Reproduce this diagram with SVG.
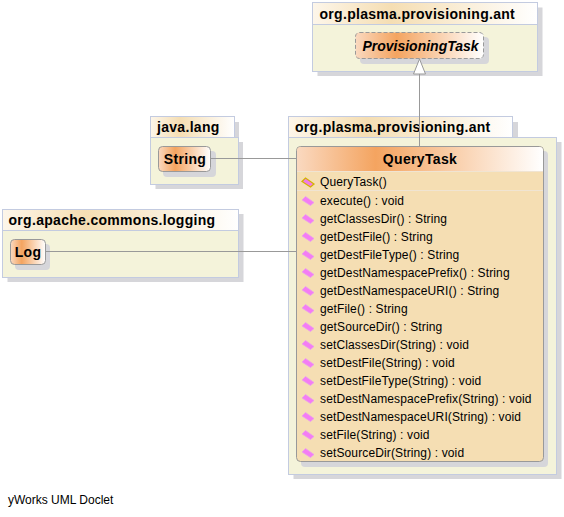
<svg xmlns="http://www.w3.org/2000/svg" width="564" height="517" viewBox="0 0 564 517">
<style>
text{font-family:"Liberation Sans",Arial,sans-serif;fill:#000}
.shadow{fill:#d6d6da}
.body{fill:#f4f3da;stroke:#c3cbe0;stroke-width:1}
.tab{fill:url(#tabGrad);stroke:#c3cbe0;stroke-width:1}
.cls{stroke:#999;stroke-width:1}
.pkg{font-size:14px;font-weight:bold;letter-spacing:.3px}
.name{font-size:14px;font-weight:bold;text-anchor:middle;letter-spacing:.35px}
.m{font-size:12px;letter-spacing:.13px}
.conn{fill:none;stroke:#999;stroke-width:1}
.sep{stroke:#f0e4d2;stroke-width:1}
.ico{fill:#f47cf4;stroke:#e8a0ee;stroke-width:.8}
.ctor{fill:#f07ce8;stroke:#d4b400;stroke-width:1.3}
</style>
<defs>
<linearGradient id="tabGrad"><stop offset="0" stop-color="#fdf6ea"/><stop offset=".35" stop-color="#f5deb3"/><stop offset="1" stop-color="#fff"/></linearGradient>
<linearGradient id="clsGrad"><stop offset="0" stop-color="#fad9c0"/><stop offset=".32" stop-color="#f4a460"/><stop offset="1" stop-color="#fff"/></linearGradient>
<path id="im" d="M-6-1-2.500-4.500 6 1.500 2.500 4.500Z"/>
</defs>
<g id="pkg-top">
<path class="shadow" d="M317.500 7.500H542.500V76H317.500Z"/>
<rect class="body" x="312.500" y="24.500" width="225" height="47"/>
<rect class="tab" x="312.500" y="2.500" width="225" height="22"/>
<text class="pkg" x="319.500" y="19">org.plasma.provisioning.ant</text>
</g>
<g id="pkg-main">
<path class="shadow" d="M293.500 122H518V142H561.500V479H293.500Z"/>
<rect class="body" x="288.500" y="137.500" width="268" height="337"/>
<rect class="tab" x="288.500" y="116.500" width="224" height="21"/>
<text class="pkg" x="295" y="132">org.plasma.provisioning.ant</text>
</g>
<g id="pkg-lang">
<path class="shadow" d="M155.500 122H239V142H243V189H155.500Z"/>
<rect class="body" x="150.500" y="137.500" width="88" height="47"/>
<rect class="tab" x="150.500" y="116.500" width="84" height="21"/>
<text class="pkg" x="157" y="132">java.lang</text>
</g>
<g id="pkg-logging">
<path class="shadow" d="M7.500 214H243.500V282H7.500Z"/>
<rect class="body" x="2.500" y="230.500" width="236" height="47"/>
<rect class="tab" x="2.500" y="209.500" width="236" height="21"/>
<text class="pkg" x="8.500" y="225">org.apache.commons.logging</text>
</g>
<g id="ProvisioningTask">
<rect class="shadow" x="360" y="37" width="129" height="27" rx="4"/>
<rect class="cls" x="355.500" y="32.500" width="128" height="26" rx="4" fill="url(#clsGrad)" stroke-dasharray="4 2"/>
<text class="name" x="420.500" y="51" font-style="italic" style="letter-spacing:0">ProvisioningTask</text>
</g>
<g id="String">
<rect class="shadow" x="163" y="151" width="53" height="26" rx="4"/>
<rect class="cls" x="158.500" y="146.500" width="52" height="25" rx="4" fill="url(#clsGrad)"/>
<text class="name" x="185" y="164">String</text>
</g>
<g id="Log">
<rect class="shadow" x="15" y="244" width="35" height="26" rx="4"/>
<rect class="cls" x="10.500" y="239.500" width="35" height="25" rx="4" fill="url(#clsGrad)"/>
<text class="name" x="28" y="257">Log</text>
</g>
<g id="QueryTask">
<rect class="shadow" x="301" y="151" width="247" height="316" rx="4"/>
<rect x="296.500" y="146.500" width="247" height="315" rx="4" fill="#f5deb3" stroke="#999"/>
<path d="M297 171V150.500A3.500 3.500 0 0 1 300.500 147H539.500A3.500 3.500 0 0 1 543 150.500V171Z" fill="url(#clsGrad)"/>
<path class="sep" d="M297 171.500H543M297 190.500H543"/>
<text class="name" x="420" y="164">QueryTask</text>
<use href="#im" class="ctor" x="308" y="182.500"/>
<text class="m" x="320" y="186">QueryTask()</text>
<use href="#im" class="ico" x="308" y="201"/><text class="m" x="320" y="205">execute() : void</text>
<use href="#im" class="ico" x="308" y="219"/><text class="m" x="320" y="223">getClassesDir() : String</text>
<use href="#im" class="ico" x="308" y="237"/><text class="m" x="320" y="241">getDestFile() : String</text>
<use href="#im" class="ico" x="308" y="255"/><text class="m" x="320" y="259">getDestFileType() : String</text>
<use href="#im" class="ico" x="308" y="273"/><text class="m" x="320" y="277">getDestNamespacePrefix() : String</text>
<use href="#im" class="ico" x="308" y="291"/><text class="m" x="320" y="295">getDestNamespaceURI() : String</text>
<use href="#im" class="ico" x="308" y="309"/><text class="m" x="320" y="313">getFile() : String</text>
<use href="#im" class="ico" x="308" y="327"/><text class="m" x="320" y="331">getSourceDir() : String</text>
<use href="#im" class="ico" x="308" y="345"/><text class="m" x="320" y="349">setClassesDir(String) : void</text>
<use href="#im" class="ico" x="308" y="363"/><text class="m" x="320" y="367">setDestFile(String) : void</text>
<use href="#im" class="ico" x="308" y="381"/><text class="m" x="320" y="385">setDestFileType(String) : void</text>
<use href="#im" class="ico" x="308" y="399"/><text class="m" x="320" y="403">setDestNamespacePrefix(String) : void</text>
<use href="#im" class="ico" x="308" y="417"/><text class="m" x="320" y="421">setDestNamespaceURI(String) : void</text>
<use href="#im" class="ico" x="308" y="435"/><text class="m" x="320" y="439">setFile(String) : void</text>
<use href="#im" class="ico" x="308" y="453"/><text class="m" x="320" y="457">setSourceDir(String) : void</text>
</g>
<g id="connectors">
<path class="conn" d="M419.500 74V146.500"/>
<path d="M419.500 59 413.500 74H425.500Z" fill="#fff" stroke="#999"/>
<path class="conn" d="M211 158.500H296.500"/>
<path class="conn" d="M45.500 251.500H296.500"/>
</g>
<text x="8" y="504" font-size="12">yWorks UML Doclet</text>
</svg>
